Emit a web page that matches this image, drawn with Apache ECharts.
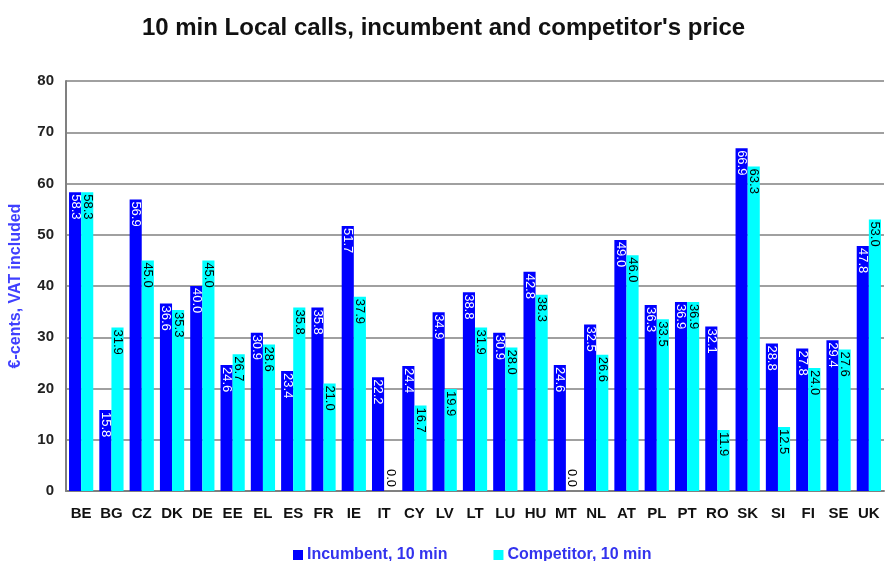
<!DOCTYPE html>
<html>
<head>
<meta charset="utf-8">
<script src="https://cdn.jsdelivr.net/npm/echarts@6/dist/echarts.min.js"></script>
<style>
  html, body { margin: 0; padding: 0; background: #fff; }
  #chart { width: 887px; height: 561px; }
</style>
</head>
<body>
<div id="chart"></div>
<script>
const countries = ['BE', 'BG', 'CZ', 'DK', 'DE', 'EE', 'EL', 'ES', 'FR', 'IE', 'IT', 'CY', 'LV', 'LT',
  'LU', 'HU', 'MT', 'NL', 'AT', 'PL', 'PT', 'RO', 'SK', 'SI', 'FI', 'SE', 'UK']
const incumbent = [58.3, 15.8, 56.9, 36.6, 40.0, 24.6, 30.9, 23.4, 35.8, 51.7, 22.2, 24.4, 34.9, 38.8,
  30.9, 42.8, 24.6, 32.5, 49.0, 36.3, 36.9, 32.1, 66.9, 28.8, 27.8, 29.4, 47.8]
const competitor = [58.3, 31.9, 45.0, 35.3, 45.0, 26.7, 28.6, 35.8, 21.0, 37.9, 0.0, 16.7, 19.9, 31.9,
  28.0, 38.3, 0.0, 26.6, 46.0, 33.5, 36.9, 11.9, 63.3, 12.5, 24.0, 27.6, 53.0]
const yTicks = [0, 10, 20, 30, 40, 50, 60, 70, 80]

const chart = echarts.init(document.getElementById('chart'))

// zero bars get their label sitting on the axis instead of below it
function withLabels (values) {
  return values.map(v => {
    if (v !== 0) return v
    return {
      value: v,
      label: { position: 'insideBottom', align: 'right', distance: 4 }
    }
  })
}

function barLabel (color) {
  return {
    show: true,
    position: 'insideTop',
    rotate: -90,
    align: 'left',
    verticalAlign: 'middle',
    distance: 2,
    color: color,
    fontSize: 13,
    fontFamily: 'Liberation Sans',
    formatter: p => p.value.toFixed(1)
  }
}

const option = {
  animation: false,
  title: {
    text: "10 min Local calls, incumbent and competitor's price",
    left: 'center',
    top: 11,
    textStyle: { fontFamily: 'Liberation Sans', fontSize: 24, fontWeight: 'bold', color: '#111' }
  },
  legend: {
    top: 542,
    left: 288,
    itemWidth: 10,
    itemHeight: 10,
    itemGap: 46,
    icon: 'rect',
    textStyle: { fontFamily: 'Liberation Sans', fontSize: 16, fontWeight: 'bold', color: '#3333ee', padding: [0, 0, 0, -1] }
  },
  grid: { left: 66, right: 3, top: 81, bottom: 70, outerBoundsMode: 'none' },
  xAxis: {
    type: 'category',
    data: countries,
    axisLine: { lineStyle: { color: '#808080', width: 2 } },
    axisTick: { show: false },
    axisLabel: { color: '#111', fontFamily: 'Liberation Sans', fontSize: 15, fontWeight: 'bold', margin: 15 }
  },
  yAxis: {
    type: 'value',
    min: yTicks[0],
    max: yTicks[yTicks.length - 1],
    interval: 10,
    name: '€-cents, VAT included',
    nameLocation: 'middle',
    nameGap: 42,
    nameTextStyle: { color: '#4040ff', fontFamily: 'Liberation Sans', fontSize: 16, fontWeight: 'bold' },
    axisLine: { show: true, lineStyle: { color: '#808080', width: 2 } },
    axisTick: { show: false },
    splitLine: { lineStyle: { color: '#808080', width: 1.5 } },
    axisLabel: { color: '#222', fontFamily: 'Liberation Sans', fontSize: 15, fontWeight: 'bold', margin: 12 }
  },
  series: [
    {
      name: 'Incumbent, 10 min',
      type: 'bar',
      data: withLabels(incumbent),
      barGap: '0%',
      barCategoryGap: '20%',
      itemStyle: { color: '#0000ff' },
      label: barLabel('#ffffff')
    },
    {
      name: 'Competitor, 10 min',
      type: 'bar',
      data: withLabels(competitor),
      itemStyle: { color: '#00ffff' },
      label: barLabel('#000000')
    }
  ]
}

chart.setOption(option)
window.addEventListener('resize', () => chart.resize())
</script>
</body>
</html>
